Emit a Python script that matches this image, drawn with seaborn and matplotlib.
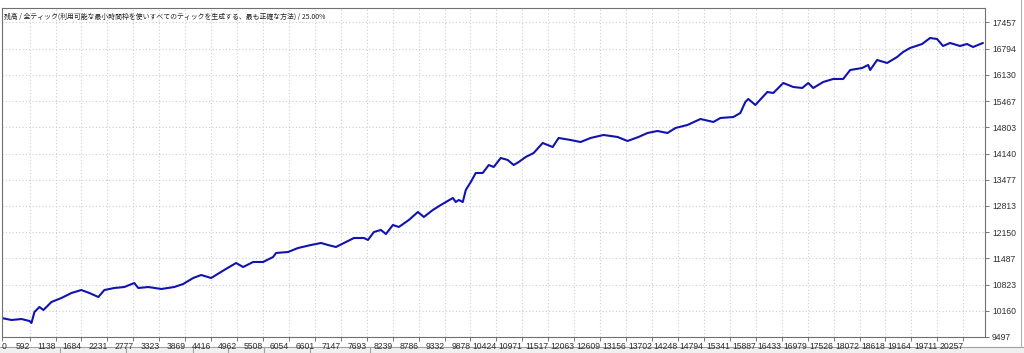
import matplotlib
matplotlib.use("Agg")
import matplotlib.pyplot as plt
from matplotlib.patches import Rectangle
from matplotlib.lines import Line2D
import seaborn as sns
import pandas as pd

# ---- data ----
deals = [0, 210, 421, 589, 631, 694, 799, 883, 1052, 1262, 1472, 1682, 1851, 2040, 2166,
         2376, 2587, 2797, 2881, 3091, 3365, 3638, 3827, 4038, 4206, 4416, 4690, 4942, 5089,
         5300, 5510, 5720, 5783, 6036, 6246, 6519, 6730, 6877, 7045, 7213, 7424, 7634, 7718,
         7844, 7991, 8097, 8244, 8370, 8580, 8770, 8896, 9085, 9253, 9506, 9569, 9632, 9716,
         9779, 9884, 9989, 10136, 10263, 10368, 10515, 10662, 10788, 10894, 11041, 11209,
         11398, 11609, 11735, 11987, 12197, 12408, 12681, 12976, 13186, 13417, 13606, 13817,
         14027, 14195, 14448, 14721, 14994, 15142, 15415, 15562, 15667, 15730, 15878, 16130,
         16256, 16466, 16677, 16866, 16992, 17097, 17308, 17518, 17728, 17876, 18128, 18254,
         18296, 18443, 18654, 18864, 18990, 19137, 19390, 19558, 19705, 19831, 19979, 20189,
         20336, 20462, 20672]
balance = [9978, 9927, 9952, 9902, 9851, 10130, 10256, 10180, 10383, 10484, 10610, 10686,
           10610, 10509, 10686, 10737, 10762, 10863, 10737, 10762, 10712, 10762, 10838, 10990,
           11066, 10990, 11192, 11370, 11268, 11395, 11395, 11521, 11623, 11648, 11749, 11825,
           11876, 11825, 11774, 11876, 12002, 12002, 11952, 12154, 12205, 12103, 12331, 12281,
           12458, 12660, 12534, 12711, 12837, 13014, 12913, 12964, 12913, 13217, 13419, 13647,
           13647, 13849, 13799, 14027, 13976, 13849, 13925, 14052, 14153, 14406, 14305, 14533,
           14482, 14431, 14533, 14609, 14558, 14457, 14558, 14659, 14710, 14659, 14786, 14862,
           15013, 14938, 15039, 15064, 15165, 15444, 15520, 15368, 15697, 15671, 15924, 15823,
           15798, 15924, 15798, 15950, 16026, 16026, 16253, 16304, 16380, 16253, 16506, 16431,
           16582, 16709, 16810, 16911, 17063, 17038, 16861, 16937, 16861, 16911, 16835, 16937]

x_ticks = [0, 592, 1138, 1684, 2231, 2777, 3323, 3869, 4416, 4962, 5508, 6054, 6601, 7147,
           7693, 8239, 8786, 9332, 9878, 10424, 10971, 11517, 12063, 12609, 13156, 13702,
           14248, 14794, 15341, 15887, 16433, 16979, 17526, 18072, 18618, 19164, 19711, 20257]
y_ticks = [9497, 10160, 10823, 11487, 12150, 12813, 13477, 14140, 14803, 15467, 16130,
           16794, 17457]
title_text = "残高 / 全ティック(利用可能な最小時間枠を使いすべてのティックを生成する、最も正確な方法) / 25.00%"

df = pd.DataFrame({"deal": deals, "balance": balance})

sns.set_style("white")
plt.rcParams["font.family"] = ["Liberation Sans", "Noto Sans CJK JP", "DejaVu Sans"]

W, H = 1024, 353
fig = plt.figure(figsize=(W / 100, H / 100), dpi=100)

# window chrome (bottom tab strip and border), drawn beneath everything
fig.patches.append(Rectangle((0, 0), 1, 6 / H, transform=fig.transFigure,
                             facecolor="#f0f0f0", edgecolor="none", zorder=-5))
fig.lines.append(Line2D([0, 1], [6 / H, 6 / H], transform=fig.transFigure,
                        color="#a0a0a0", linewidth=0.8, zorder=-4))
for xp in [60, 126, 193, 228, 264, 310, 370]:
    fig.lines.append(Line2D([xp / W, xp / W], [0, 6 / H], transform=fig.transFigure,
                            color="#a0a0a0", linewidth=0.8, zorder=-4))
fig.lines.append(Line2D([1021 / W, 1021 / W], [6 / H, 1], transform=fig.transFigure,
                        color="#b0b0b0", linewidth=0.8, zorder=-4))

ax = fig.add_axes([1.5 / W, 1 - 337 / H, (985 - 1.5) / W, (337 - 8) / H])
ax.set_zorder(1)

sns.lineplot(data=df, x="deal", y="balance", ax=ax, color="#1212b0", linewidth=1.5,
             estimator=None, sort=False)

ax.set_xlim(0, 20715)
ax.set_ylim(9497, 17822)
ax.set_xticks(x_ticks)
ax.set_xticklabels([str(v) for v in x_ticks])
ax.set_yticks(y_ticks)
ax.set_yticklabels([str(v) for v in y_ticks])
ax.set_xlabel("")
ax.set_ylabel("")

ax.yaxis.tick_right()
ax.tick_params(axis="y", which="both", right=True, left=False, length=3, width=0.6,
               color="#606060", pad=2, labelsize=6.2, labelcolor="#303030")
ax.tick_params(axis="x", which="both", bottom=True, length=3, width=0.6,
               color="#606060", pad=0.5, labelsize=6.2, labelcolor="#303030")
for i, lab in enumerate(ax.get_xticklabels()):
    lab.set_horizontalalignment("left" if i == 0 else "right")

ax.grid(True, color="#cfcfcf", linestyle=(0, (1, 2)), linewidth=0.8)
for s in ax.spines.values():
    s.set_color("#707070")
    s.set_linewidth(0.8)
    s.set_visible(True)

ax.text(0.003, 0.986, title_text, transform=ax.transAxes, ha="left", va="top",
        fontsize=4.95, color="#202020",
        family=["Noto Sans CJK JP", "DejaVu Sans"])

fig.savefig("out.png", dpi=100)
